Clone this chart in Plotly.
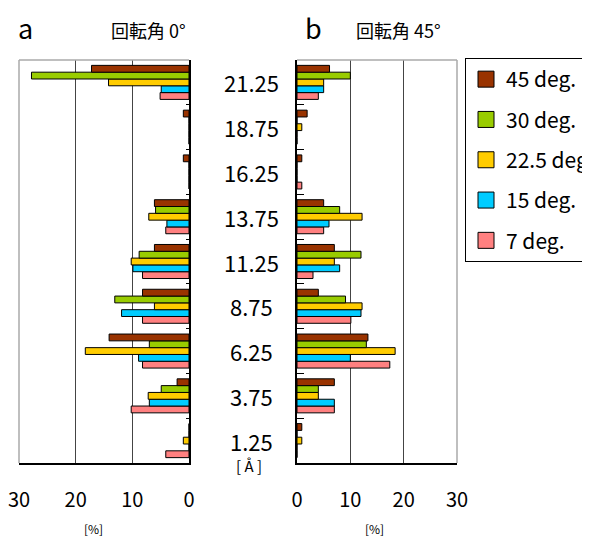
import plotly.graph_objects as go

categories = [21.25, 18.75, 16.25, 13.75, 11.25, 8.75, 6.25, 3.75, 1.25]
category_labels = ["21.25", "18.75", "16.25", "13.75", "11.25", "8.75", "6.25", "3.75", "1.25"]
series_names = ["45 deg.", "30 deg.", "22.5 deg.", "15 deg.", "7 deg."]
series_colors = ["#993300", "#99CC00", "#FFCC00", "#00CCFF", "#FF8080"]

# panel a: rotation angle 0 deg  (values in %)
a_45 = [17.2, 1.0, 1.0, 6.1, 6.1, 8.2, 14.1, 2.1, 0]
a_30 = [27.8, 0, 0, 5.9, 8.8, 13.1, 7.0, 4.9, 0]
a_225 = [14.2, 0, 0, 7.1, 10.2, 6.1, 18.3, 7.2, 1.0]
a_15 = [4.9, 0, 0, 3.9, 9.9, 11.9, 8.9, 7.0, 0]
a_7 = [5.1, 0, 0, 4.1, 8.2, 8.2, 8.2, 10.2, 4.1]

# panel b: rotation angle 45 deg (values in %)
b_45 = [6.1, 1.9, 0.9, 5.0, 7.0, 4.0, 13.3, 7.0, 0.9]
b_30 = [10.0, 0, 0, 8.0, 12.0, 9.1, 13.0, 4.0, 0]
b_225 = [5.0, 0.9, 0, 12.2, 7.0, 12.2, 18.4, 4.0, 0.9]
b_15 = [5.0, 0, 0, 6.0, 8.0, 12.0, 10.0, 7.0, 0]
b_7 = [4.0, 0, 0.9, 5.0, 3.0, 10.1, 17.4, 7.0, 0]

a_series = [a_45, a_30, a_225, a_15, a_7]
b_series = [b_45, b_30, b_225, b_15, b_7]

x_ticks = [0, 10, 20, 30]
boundaries = [0, 2.5, 5, 7.5, 10, 12.5, 15, 17.5, 20, 22.5]

FONT = "Noto Sans CJK JP"
OFF = 8  # page body margin
W, H = 590 - OFF, 537 - OFF


def fx(X):
    return (X - OFF) / W


def fy(Y):
    return 1 - (Y - OFF) / H


fig = go.Figure()

# bars: added bottom-to-top within each group (7 deg. lowest, 45 deg. on top)
for name, color, va, vb in reversed(list(zip(series_names, series_colors, a_series, b_series))):
    fig.add_trace(go.Bar(
        x=va, y=categories, orientation="h", name=name,
        marker=dict(color=color, line=dict(color="#000000", width=1)),
        xaxis="x", yaxis="y", showlegend=False))
    fig.add_trace(go.Bar(
        x=vb, y=categories, orientation="h", name=name,
        marker=dict(color=color, line=dict(color="#000000", width=1)),
        xaxis="x2", yaxis="y2", showlegend=False))

# legend proxies
for name, color in zip(series_names, series_colors):
    fig.add_trace(go.Scatter(
        x=[None], y=[None], mode="markers", name=name, legendgroup=name,
        marker=dict(symbol="square", size=16, color=color,
                    line=dict(color="#000000", width=1)),
        xaxis="x2", yaxis="y2", showlegend=True))

xl = [fx(19), fx(189)]
xr = [fx(297), fx(457)]
yd = [fy(463), fy(60)]

xaxis_common = dict(
    tickvals=x_ticks, ticktext=[str(v) for v in x_ticks],
    showgrid=False, zeroline=False,
    showline=True, linecolor="#000000", linewidth=2,
    ticks="", tickfont=dict(family=FONT, size=20, color="#000000"),
    ticklabelstandoff=18, ticklabeloverflow="allow",
    minor=dict(tickvals=[10, 20], showgrid=True, gridcolor="#444444", gridwidth=1),
)
yaxis_common = dict(
    range=[0, 22.5], tickvals=boundaries, showticklabels=False,
    showgrid=False, zeroline=False,
    showline=True, linecolor="#000000", linewidth=1.5,
    ticks="inside", tickcolor="#000000",
)

fig.update_layout(
    width=W, height=H,
    margin=dict(l=0, r=0, t=0, b=0, autoexpand=False),
    paper_bgcolor="#ffffff", plot_bgcolor="#ffffff",
    barmode="group", bargap=0.24, bargroupgap=0,
    xaxis=dict(domain=xl, range=[30, 0], anchor="y", **xaxis_common),
    yaxis=dict(domain=yd, anchor="x", side="right", ticklen=3, **yaxis_common),
    xaxis2=dict(domain=xr, range=[0, 30], anchor="y2", **xaxis_common),
    yaxis2=dict(domain=yd, anchor="x2", side="left", ticklen=7, **yaxis_common),
    legend=dict(x=fx(465), y=fy(58), xanchor="left", yanchor="top",
                bordercolor="#000000", borderwidth=1, bgcolor="#ffffff",
                font=dict(family=FONT, size=21, color="#000000"),
                tracegroupgap=10, itemsizing="trace"),
    font=dict(family=FONT, color="#000000"),
)

# gray frame lines (top and outer sides)
gray = "#aaaaaa"
fig.add_shape(type="line", xref="x domain", yref="y domain", x0=0, x1=1, y0=1, y1=1,
              line=dict(color=gray, width=1.5))
fig.add_shape(type="line", xref="x domain", yref="y domain", x0=0, x1=0, y0=0, y1=1,
              line=dict(color=gray, width=1.5))
fig.add_shape(type="line", xref="x2 domain", yref="y2 domain", x0=0, x1=1, y0=1, y1=1,
              line=dict(color=gray, width=1.5))
fig.add_shape(type="line", xref="x2 domain", yref="y2 domain", x0=1, x1=1, y0=0, y1=1,
              line=dict(color=gray, width=1.5))

annotations = []
for c, lab in zip(categories, category_labels):
    annotations.append(dict(x=fx(251), y=c, xref="paper", yref="y", text=lab,
                            showarrow=False, xanchor="center", yanchor="middle",
                            font=dict(family=FONT, size=22, color="#000000")))

annotations += [
    dict(x=fx(25), y=fy(27), xref="paper", yref="paper", text="a", showarrow=False,
         xanchor="center", yanchor="middle", font=dict(family=FONT, size=27)),
    dict(x=fx(109), y=fy(30), xref="paper", yref="paper", text="回転角 0°",
         showarrow=False, xanchor="left", yanchor="middle", font=dict(family=FONT, size=18)),
    dict(x=fx(313), y=fy(27), xref="paper", yref="paper", text="b", showarrow=False,
         xanchor="center", yanchor="middle", font=dict(family=FONT, size=27)),
    dict(x=fx(354), y=fy(30), xref="paper", yref="paper", text="回転角 45°",
         showarrow=False, xanchor="left", yanchor="middle", font=dict(family=FONT, size=18)),
    dict(x=fx(249), y=fy(465), xref="paper", yref="paper", text="[ Å ]",
         showarrow=False, xanchor="center", yanchor="middle", font=dict(family=FONT, size=15)),
    dict(x=fx(93), y=fy(528), xref="paper", yref="paper", text="[%]",
         showarrow=False, xanchor="center", yanchor="middle", font=dict(family=FONT, size=12)),
    dict(x=fx(374), y=fy(528), xref="paper", yref="paper", text="[%]",
         showarrow=False, xanchor="center", yanchor="middle", font=dict(family=FONT, size=12)),
]
fig.update_layout(annotations=annotations)

fig.write_html("out.html")
